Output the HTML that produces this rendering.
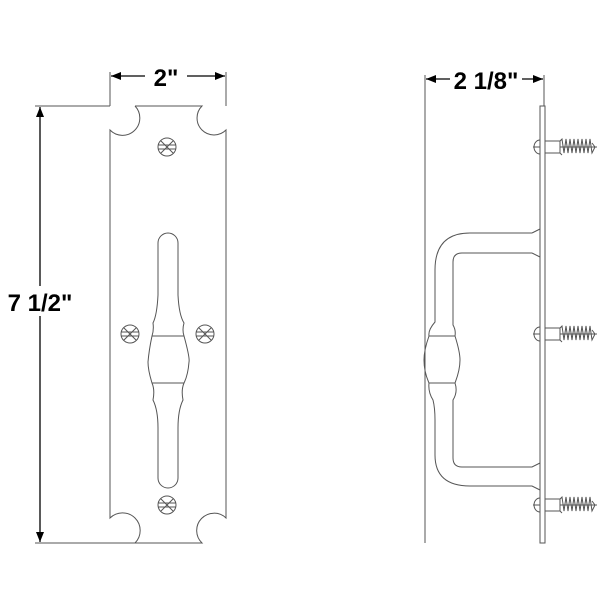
<!DOCTYPE html>
<html><head><style>body{margin:0;background:#fff}svg{display:block}text{font-family:"Liberation Sans",sans-serif;font-weight:bold}</style></head><body>
<svg width="600" height="600" viewBox="0 0 600 600" xmlns="http://www.w3.org/2000/svg">
<defs><marker id="a" markerWidth="10" markerHeight="8" refX="10" refY="4" orient="auto-start-reverse" markerUnits="userSpaceOnUse"><path d="M0,0L10,4L0,8z" fill="#000"/></marker></defs>
<g fill="none" stroke="#555" stroke-width="1">
<!-- left plate -->
<path d="M135,106 H202 A13,13 0 0 0 226,130 V518 A13,13 0 0 0 202,543 H135 A13,13 0 0 0 110,518 V130 A13,13 0 0 0 135,106"/>
<line x1="110" y1="72" x2="110" y2="106"/><line x1="226" y1="72" x2="226" y2="106"/>
<line x1="35" y1="106" x2="110" y2="106"/><line x1="35" y1="543" x2="135" y2="543"/>
<!-- screws -->
<g id="s"><circle cx="167" cy="147" r="9"/><line x1="158" y1="145" x2="176" y2="145"/><line x1="158" y1="149" x2="176" y2="149"/><line x1="161" y1="141" x2="173" y2="153"/><line x1="173" y1="141" x2="161" y2="153"/></g>
<use href="#s" x="-37" y="187"/><use href="#s" x="38" y="187"/><use href="#s" x="0" y="358"/>
<!-- slot -->
<path d="M158,243 A10,10 0 0 1 178,243 V295 Q179,315 184,323 Q182,330 184,336 Q190,358 189,362 Q188,375 184,383 Q181,390 183,400 Q178,410 178,428 V478 A10,10 0 0 1 158,478 V428 Q158,410 153,400 Q155,390 152,383 Q148,370 148,362 Q149,350 152,336 Q154,330 153,323 Q157,315 158,295 Z"/>
<line x1="152" y1="336" x2="184" y2="336"/><line x1="152" y1="383" x2="184" y2="383"/>
<!-- right side -->
<line x1="425" y1="75" x2="425" y2="543"/><line x1="544" y1="75" x2="544" y2="106"/>
<rect x="540" y="106" width="5" height="437"/>
<path d="M532,233 H470 Q435,233 435,270 V322 Q428,330 429,336 Q424,350 424,360 Q424,372 429,383 Q428,392 433,400 Q435,408 435,420 V455 Q435,486 470,486 H532 L540,490"/>
<path d="M540,229 L532,233 M532,253 H462 Q453,253 453,262 V325 Q456,330 455,336 Q460,352 460,360 Q460,370 455,383 Q458,392 453,400 V458 Q453,467 462,467 H532 L540,463 M532,253 L540,257"/>
<line x1="429" y1="336" x2="455" y2="336"/><line x1="429" y1="383" x2="455" y2="383"/>
<g id="w"><path d="M540,140 A6,7 0 0 0 540,154"/><line x1="533" y1="147" x2="540" y2="147"/><rect x="545" y="141" width="15" height="12"/><path d="M560,141 l2,-2 l2,14 l2,-14 l2,14 l2,-14 l2,14 l2,-14 l2,14 l2,-14 l2,14 l2,-14 l2,14 l2,-14 l2,14 l2,-14 l2,14 l3,-6 l-3,-4 M560,153 l2,2"/><line x1="560" y1="147" x2="597" y2="147"/></g>
<use href="#w" y="187"/><use href="#w" y="358"/>
</g>
<g stroke="#000" stroke-width="1.3" marker-start="url(#a)" marker-end="url(#a)">
<line x1="111" y1="76" x2="225" y2="76"/><line x1="40" y1="107" x2="40" y2="542"/><line x1="426" y1="79" x2="543" y2="79"/>
</g>
<rect x="145" y="62" width="42" height="28" fill="#fff"/><text x="166" y="86" font-size="24" text-anchor="middle">2"</text>
<rect x="5" y="286" width="72" height="30" fill="#fff"/><text x="40" y="311" font-size="24" text-anchor="middle">7 1/2"</text>
<rect x="450" y="64" width="72" height="30" fill="#fff"/><text x="486" y="89" font-size="24" text-anchor="middle">2 1/8"</text>
</svg></body></html>
